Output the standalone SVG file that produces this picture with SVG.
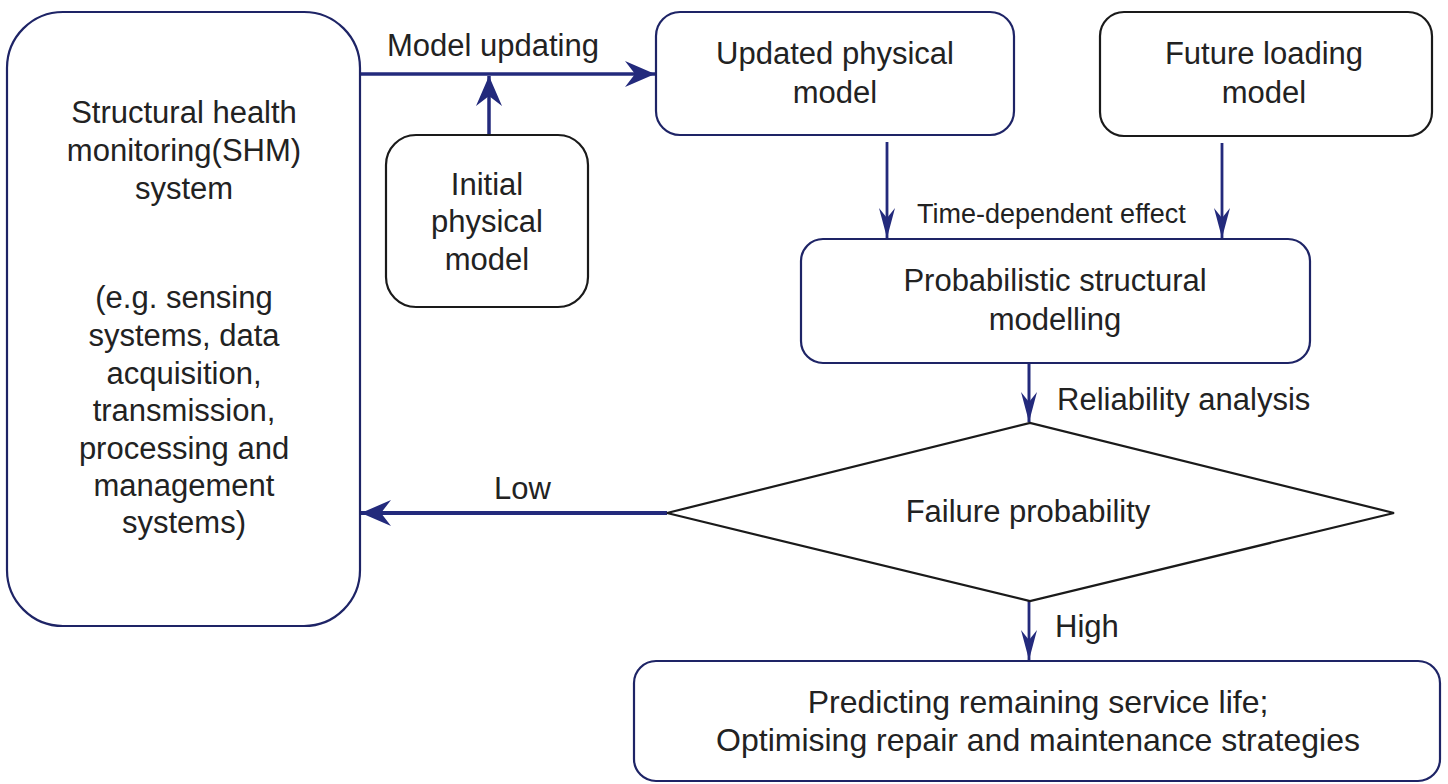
<svg xmlns="http://www.w3.org/2000/svg" width="1448" height="784" viewBox="0 0 1448 784">
  <defs>
    <style>
      .navy { fill: #ffffff; stroke: #1e2466; stroke-width: 2.2; }
      .dark { fill: #ffffff; stroke: #1a1a1a; stroke-width: 2.2; }
      .lbl { font-family: "Liberation Sans", Arial, sans-serif; font-size: 31px; fill: #222222; text-anchor: middle; }
      .lbl-l { font-family: "Liberation Sans", Arial, sans-serif; font-size: 31px; fill: #222222; }
      .conn { stroke: #232a7c; fill: none; }
    </style>
    <marker id="headWide" markerUnits="userSpaceOnUse" orient="auto" markerWidth="40" markerHeight="40" refX="0" refY="0" viewBox="-32 -20 40 40" overflow="visible">
      <path d="M0,0 L-30,-13 L-20,0 L-30,13 Z" fill="#232a7c"/>
    </marker>
    <marker id="headNarrow" markerUnits="userSpaceOnUse" orient="auto" markerWidth="40" markerHeight="40" refX="0" refY="0" viewBox="-32 -20 40 40" overflow="visible">
      <path d="M0,0 L-30,-8 L-20,0 L-30,8 Z" fill="#232a7c"/>
    </marker>
  </defs>

  <rect width="1448" height="784" fill="#ffffff"/>

  <!-- connectors -->
  <g id="connectors">
    <line class="conn" x1="360" y1="74" x2="655" y2="74" stroke-width="3.5" marker-end="url(#headWide)"/>
    <line class="conn" x1="489" y1="135" x2="489" y2="76" stroke-width="3.5" marker-end="url(#headWide)"/>
    <line class="conn" x1="887" y1="142" x2="887" y2="238" stroke-width="2.8" marker-end="url(#headNarrow)"/>
    <line class="conn" x1="1222" y1="143" x2="1222" y2="238" stroke-width="2.8" marker-end="url(#headNarrow)"/>
    <line class="conn" x1="1029" y1="363" x2="1029" y2="422" stroke-width="3" marker-end="url(#headNarrow)"/>
    <line class="conn" x1="667" y1="513" x2="361" y2="513" stroke-width="4" marker-end="url(#headWide)"/>
    <line class="conn" x1="1029" y1="601" x2="1029" y2="660" stroke-width="2.8" marker-end="url(#headNarrow)"/>
    <text class="lbl-l" x="387" y="56">Model updating</text>
    <text class="lbl-l" x="917" y="223" style="font-size:27px">Time-dependent effect</text>
    <text class="lbl-l" x="1057" y="410">Reliability analysis</text>
    <text class="lbl-l" x="494" y="499">Low</text>
    <text class="lbl-l" x="1055" y="637">High</text>
  </g>

  <g id="shm">
    <rect class="navy" x="7" y="12" width="353" height="614" rx="56" ry="56"/>
    <text class="lbl" x="184" y="123">Structural health</text>
    <text class="lbl" x="184" y="161">monitoring(SHM)</text>
    <text class="lbl" x="184" y="199">system</text>
    <text class="lbl" x="184" y="308">(e.g. sensing</text>
    <text class="lbl" x="184" y="346">systems, data</text>
    <text class="lbl" x="184" y="384">acquisition,</text>
    <text class="lbl" x="184" y="421">transmission,</text>
    <text class="lbl" x="184" y="459">processing and</text>
    <text class="lbl" x="184" y="496">management</text>
    <text class="lbl" x="184" y="533">systems)</text>
  </g>

  <g id="initial-model">
    <rect class="dark" x="386" y="135" width="202" height="172" rx="30" ry="30"/>
    <text class="lbl" x="487" y="195">Initial</text>
    <text class="lbl" x="487" y="232">physical</text>
    <text class="lbl" x="487" y="270">model</text>
  </g>

  <g id="updated-model">
    <rect class="navy" x="656" y="12" width="358" height="123" rx="24" ry="24"/>
    <text class="lbl" x="835" y="64">Updated physical</text>
    <text class="lbl" x="835" y="103">model</text>
  </g>

  <g id="future-loading">
    <rect class="dark" x="1100" y="12" width="332" height="124" rx="24" ry="24"/>
    <text class="lbl" x="1264" y="64">Future loading</text>
    <text class="lbl" x="1264" y="103">model</text>
  </g>

  <g id="probabilistic">
    <rect class="navy" x="801" y="239" width="509" height="124" rx="22" ry="22"/>
    <text class="lbl" x="1055" y="291">Probabilistic structural</text>
    <text class="lbl" x="1055" y="330">modelling</text>
  </g>

  <g id="failure-probability">
    <polygon class="dark" points="667,513 1030,423 1394,513 1030,601"/>
    <text class="lbl" x="1028" y="522">Failure probability</text>
  </g>

  <g id="prediction">
    <rect class="navy" x="634" y="661" width="806" height="120" rx="22" ry="22"/>
    <text class="lbl" x="1038" y="713" style="font-size:32px">Predicting remaining service life;</text>
    <text class="lbl" x="1038" y="751" style="font-size:32px">Optimising repair and maintenance strategies</text>
  </g>
</svg>
